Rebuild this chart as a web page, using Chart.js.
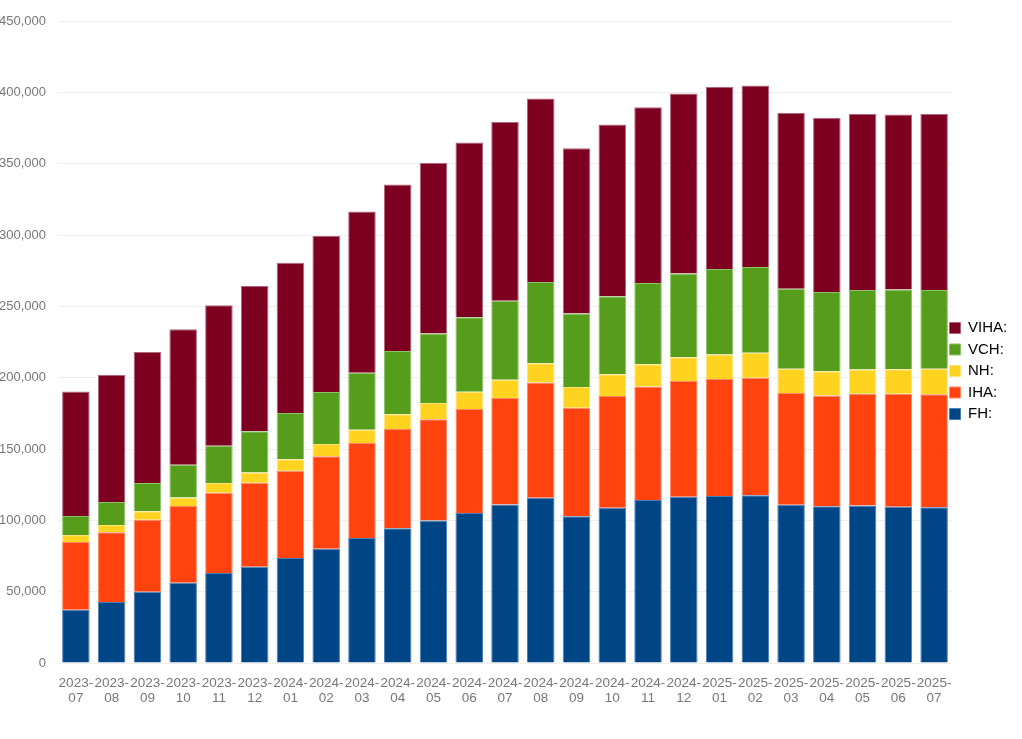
<!DOCTYPE html>
<html>
<head>
<meta charset="utf-8">
<script src="https://cdn.jsdelivr.net/npm/chart.js@4"></script>
<style>
  html, body { margin: 0; padding: 0; background: #ffffff; }
  #wrap { width: 1022px; height: 739px; }
</style>
</head>
<body>
<div id="wrap"><canvas id="chart"></canvas></div>
<script>
var months = [
    '2023-07', '2023-08', '2023-09', '2023-10', '2023-11', '2023-12',
    '2024-01', '2024-02', '2024-03', '2024-04', '2024-05', '2024-06',
    '2024-07', '2024-08', '2024-09', '2024-10', '2024-11', '2024-12',
    '2025-01', '2025-02', '2025-03', '2025-04', '2025-05', '2025-06', '2025-07'
];

var fh = [37400, 42800, 50000, 56300, 63100, 67500, 73600, 80100, 87600, 94500, 99900, 105100,
          111100, 115900, 102800, 108800, 114300, 116500, 117100, 117600, 111000, 109900, 110500, 109600, 109100];
var iha = [47400, 48800, 50500, 53700, 56300, 58900, 61200, 64800, 66700, 69500, 71000, 72900,
           74600, 80800, 76100, 78400, 79500, 81200, 82000, 82300, 78300, 77600, 78200, 79100, 79300];
var nh = [4900, 5100, 5800, 6100, 6800, 7200, 8000, 8600, 9200, 10300, 11400, 12100,
          12900, 13400, 14600, 15200, 15700, 16600, 17100, 17500, 16900, 17000, 17000, 17200, 17800];
var vch = [13300, 16100, 19900, 22900, 26100, 28800, 32400, 36500, 40000, 44400, 48700, 52300,
           55300, 56900, 51500, 54600, 56900, 58700, 60000, 60200, 56200, 55600, 55800, 55900, 55300];
var viha = [87400, 89100, 91800, 94900, 98400, 101800, 105400, 109300, 113000, 116700, 119500, 122500,
            125300, 128700, 115800, 120400, 123100, 126200, 127500, 127200, 123200, 122100, 123300, 122700, 123300];

var seriesNames = ['FH:', 'IHA:', 'NH:', 'VCH:', 'VIHA:'];
var yTicks = [0, 50000, 100000, 150000, 200000, 250000, 300000, 350000, 400000, 450000];

var fillColors = ['#004586', '#ff420e', '#ffd320', '#579d1c', '#7e0021'];
var edgeColors = ['#4a7fb5', '#ff8a63', '#ffe27a', '#8cc266', '#b0677e'];

function makeSet(i, values) {
    return {
        label: seriesNames[i],
        data: values,
        backgroundColor: fillColors[i],
        borderColor: edgeColors[i],
        borderWidth: 1,
        barPercentage: 0.77,
        categoryPercentage: 1.0
    };
}

// legend sits right against the plot, nudge it after layout
var legendNudge = {
    id: 'legendNudge',
    afterLayout: function(chart) {
        if (chart.legend) {
            chart.legend.left -= 9;
            chart.legend.right -= 9;
            chart.legend.top -= 2;
            chart.legend.bottom -= 2;
        }
    }
};

new Chart(document.getElementById('chart').getContext('2d'), {
    type: 'bar',
    data: {
        labels: months,
        datasets: [
            makeSet(0, fh),
            makeSet(1, iha),
            makeSet(2, nh),
            makeSet(3, vch),
            makeSet(4, viha)
        ]
    },
    plugins: [legendNudge],
    options: {
        responsive: true,
        maintainAspectRatio: false,
        animation: false,
        layout: { padding: { top: 21, bottom: 14, left: 0, right: 0 } },
        font: { family: 'Liberation Sans' },
        plugins: {
            tooltip: { enabled: false },
            legend: {
                position: 'right',
                reverse: true,
                maxWidth: 70,
                labels: {
                    color: '#000000',
                    boxWidth: 11,
                    boxHeight: 11,
                    padding: 6.5,
                    font: { family: 'Liberation Sans', size: 15 }
                }
            }
        },
        scales: {
            x: {
                stacked: true,
                grid: { display: false },
                border: { display: false },
                afterFit: function(axis) { axis.height += 14; },
                ticks: {
                    color: '#777777',
                    maxRotation: 0,
                    autoSkip: false,
                    padding: 5,
                    font: { family: 'Liberation Sans', size: 13.5, lineHeight: 1.11 },
                    callback: function(value, index) {
                        var parts = months[index].split('-');
                        return [parts[0] + '-', parts[1]];
                    }
                }
            },
            y: {
                stacked: true,
                min: 0,
                max: 450000,
                afterBuildTicks: function(axis) {
                    axis.ticks = yTicks.map(function(v) { return { value: v }; });
                },
                afterFit: function(axis) { axis.width = 58; },
                grid: { color: '#eeeeee', drawTicks: false },
                border: { display: false },
                ticks: {
                    color: '#777777',
                    padding: 12,
                    font: { family: 'Liberation Sans', size: 13 },
                    callback: function(value) { return value.toLocaleString('en-US'); }
                }
            }
        }
    }
});
</script>
</body>
</html>
